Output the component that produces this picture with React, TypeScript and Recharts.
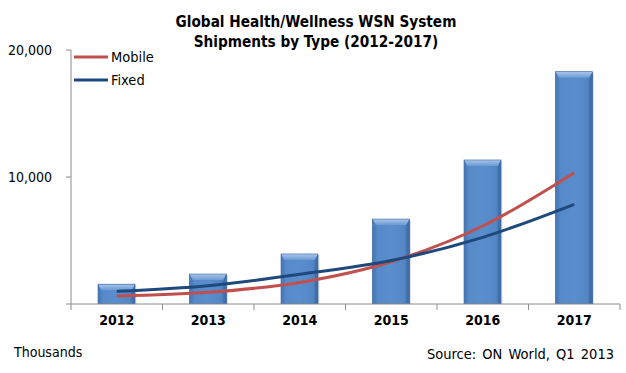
import React from 'react';
import { ComposedChart, Bar, Line, XAxis, YAxis, Legend } from 'recharts';

const years = ['2012', '2013', '2014', '2015', '2016', '2017'];
const totalShipments = [1560, 2360, 3940, 6690, 11340, 18290];
const mobileShipments = [630, 920, 1700, 3330, 6140, 10340];
const fixedShipments = [1000, 1440, 2340, 3420, 5250, 7850];
const yTicks = [0, 10000, 20000];
const legendOrder = ['Mobile', 'Fixed'];

const titleLines = ['Global Health/Wellness WSN System', 'Shipments by Type (2012-2017)'];
const unitNote = 'Thousands';
const sourceNote = 'Source: ON World, Q1 2013';

const data = years.map((year, i) => ({
  year,
  total: totalShipments[i],
  Mobile: mobileShipments[i],
  Fixed: fixedShipments[i],
}));

const FONT = '"DejaVu Sans Condensed", "DejaVu Sans", sans-serif';
const AXIS_GRAY = '#8C8C8C';

const BevelBar = (props: any) => {
  const { x, y, width, height } = props;
  if (!height || height <= 0) return null;
  const b = Math.min(6, height / 2);
  const s = 3;
  return (
    <g>
      <rect x={x + 1.5} y={y + 1} width={width} height={height - 1} fill="#000" opacity={0.12} />
      <rect x={x} y={y} width={width} height={height} fill="url(#barBody)" />
      <polygon
        points={`${x},${y} ${x + width},${y} ${x + width - s},${y + b} ${x + s},${y + b}`}
        fill="url(#barTop)"
      />
      <polygon
        points={`${x},${y} ${x + s},${y + b} ${x + s},${y + height} ${x},${y + height}`}
        fill="#4A7BBA"
      />
      <polygon
        points={`${x + width},${y} ${x + width - s},${y + b} ${x + width - s},${y + height} ${x + width},${y + height}`}
        fill="#3F6EA9"
      />
      <rect x={x} y={y} width={width} height={height} fill="none" stroke="#3B679F" strokeWidth={0.6} />
    </g>
  );
};

const XTick = (props: any) => {
  const { x, y, payload, index } = props;
  const off = payload.offset || 0;
  return (
    <g>
      <line x1={x - off} y1={y - 8} x2={x - off} y2={y - 2} stroke={AXIS_GRAY} strokeWidth={1} />
      {index === years.length - 1 && (
        <line x1={x + off} y1={y - 8} x2={x + off} y2={y - 2} stroke={AXIS_GRAY} strokeWidth={1} />
      )}
      <text
        x={x}
        y={y + 13}
        textAnchor="middle"
        fontFamily={FONT}
        fontWeight="bold"
        fontSize={14}
        fill="#000"
      >
        {payload.value}
      </text>
    </g>
  );
};

const YTick = (props: any) => {
  const { x, y, payload } = props;
  if (payload.value === 0) return null;
  return (
    <text x={x - 12} y={y + 5} textAnchor="end" fontFamily={FONT} fontSize={14} fill="#000">
      {payload.value.toLocaleString('en-US')}
    </text>
  );
};

const LegendContent = (props: any) => {
  const { payload } = props;
  const items = legendOrder
    .map((name) => (payload || []).find((e: any) => e.value === name))
    .filter(Boolean);
  return (
    <div>
      {items.map((entry: any) => (
        <div
          key={entry.value}
          style={{ display: 'flex', alignItems: 'center', height: 22.6, fontFamily: FONT, fontSize: 14.5, color: '#000' }}
        >
          <svg width={37} height={6} style={{ display: 'block' }}>
            <line x1={0} y1={3} x2={34} y2={3} stroke={entry.color} strokeWidth={3} />
          </svg>
          <span>{entry.value}</span>
        </div>
      ))}
    </div>
  );
};

export default function App() {
  return (
    <div style={{ position: 'absolute', left: 0, top: 0, width: 626, height: 373, background: '#fff' }}>
      <ComposedChart
        width={626}
        height={373}
        data={data}
        margin={{ top: 50, right: 6, bottom: 39, left: 0 }}
      >
        <defs>
          <linearGradient id="barBody" x1="0" y1="0" x2="1" y2="0">
            <stop offset="0%" stopColor="#4A7CBB" />
            <stop offset="15%" stopColor="#568AC9" />
            <stop offset="50%" stopColor="#5A8DCC" />
            <stop offset="85%" stopColor="#5487C6" />
            <stop offset="100%" stopColor="#3F6FAB" />
          </linearGradient>
          <linearGradient id="barTop" x1="0" y1="0" x2="0" y2="1">
            <stop offset="0%" stopColor="#A9C6EA" />
            <stop offset="100%" stopColor="#6B9AD4" />
          </linearGradient>
        </defs>
        <XAxis
          dataKey="year"
          height={30}
          axisLine={{ stroke: AXIS_GRAY, strokeWidth: 1 }}
          tickLine={false}
          tick={<XTick />}
          interval={0}
        />
        <YAxis
          width={71}
          domain={[0, 20000]}
          ticks={yTicks}
          axisLine={{ stroke: AXIS_GRAY, strokeWidth: 1 }}
          tickLine={{ stroke: AXIS_GRAY, strokeWidth: 1 }}
          tickSize={5}
          tick={<YTick />}
          allowDataOverflow
        />
        <Legend
          layout="vertical"
          align="center"
          verticalAlign="middle"
          content={<LegendContent />}
          wrapperStyle={{ left: 74, top: 46, width: 120, height: 50 }}
        />
        <Bar
          dataKey="total"
          barSize={37}
          shape={<BevelBar />}
          isAnimationActive={false}
          legendType="none"
        />
        <Line
          type="monotone"
          dataKey="Mobile"
          stroke="#C0504D"
          strokeWidth={3}
          dot={false}
          activeDot={false}
          isAnimationActive={false}
        />
        <Line
          type="monotone"
          dataKey="Fixed"
          stroke="#1F497D"
          strokeWidth={3}
          dot={false}
          activeDot={false}
          isAnimationActive={false}
        />
      </ComposedChart>
      <div
        style={{
          position: 'absolute',
          left: 116,
          top: 12,
          width: 400,
          textAlign: 'center',
          fontFamily: FONT,
          fontWeight: 'bold',
          fontSize: 15.2,
          lineHeight: '20px',
          color: '#000',
        }}
      >
        {titleLines.map((t) => (
          <div key={t}>{t}</div>
        ))}
      </div>
      <div
        style={{ position: 'absolute', left: 14, top: 343, fontFamily: FONT, fontSize: 14, color: '#000', lineHeight: '18px' }}
      >
        {unitNote}
      </div>
      <div
        style={{
          position: 'absolute',
          right: 12,
          top: 345,
          fontFamily: FONT,
          fontSize: 14.5,
          color: '#000',
          lineHeight: '18px',
          whiteSpace: 'nowrap',
          wordSpacing: 2,
        }}
      >
        {sourceNote}
      </div>
    </div>
  );
}
